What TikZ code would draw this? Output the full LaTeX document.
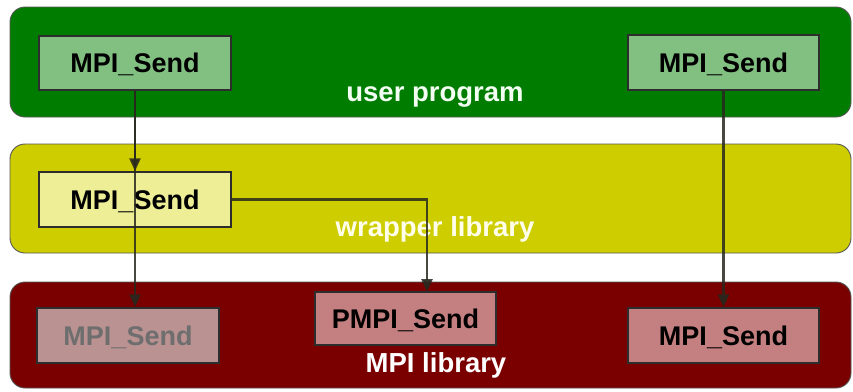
\documentclass[tikz,border=0pt]{standalone}
\usepackage{fontspec}
\setmainfont{Liberation Sans}
\usetikzlibrary{arrows.meta}
\definecolor{bandgreen}{RGB}{0,124,0}
\definecolor{boxgreen}{RGB}{130,192,130}
\definecolor{bandyellow}{RGB}{205,205,0}
\definecolor{boxyellow}{RGB}{238,238,150}
\definecolor{bandred}{RGB}{122,0,0}
\definecolor{boxred}{RGB}{196,128,128}
\definecolor{boxgrey}{RGB}{186,146,146}
\definecolor{textgrey}{RGB}{110,110,110}
\definecolor{edgedark}{RGB}{45,45,45}
\definecolor{arrowcol}{RGB}{40,40,30}
\tikzset{
  band/.style={draw=edgedark!80, line width=0.9pt, rounded corners=15pt},
  fnbox/.style={draw=edgedark, line width=1.5pt, text=black,
    font=\fontsize{27}{30}\selectfont\bfseries,
    text height=19.3pt, text depth=0pt, inner sep=0pt, anchor=center},
  bandlabel/.style={font=\fontsize{27.5}{30}\selectfont\bfseries, anchor=base, inner sep=0pt},
  arr/.style={draw=arrowcol, draw opacity=0.85, fill opacity=0.85, line width=2.6pt,
    -{Triangle[width=11pt,length=13pt]}}
}
\begin{document}
\begin{tikzpicture}[x=1pt,y=-1pt]
\useasboundingbox (0,0) rectangle (853,391);
% bands
\draw[band, fill=bandgreen] (10,7) rectangle (851,117);
\draw[band, fill=bandyellow] (10,144) rectangle (851,253);
\draw[band, fill=bandred] (10,282) rectangle (851,388);
% labels
\node[bandlabel, text=white!95!green] (lu) at (435,101) {user program};
\node[bandlabel, text=white!92!yellow] (lw) at (435,236) {wrapper library};
\node[bandlabel, text=white] (lm) at (436,372) {MPI library};
% boxes
\node[fnbox, fill=boxgreen, minimum width=192pt, minimum height=54pt] (u1) at (135,63) {MPI\_Send};
\node[fnbox, fill=boxgreen, minimum width=191pt, minimum height=55pt] (u2) at (723.5,62.5) {MPI\_Send};
\node[fnbox, fill=boxyellow, minimum width=192pt, minimum height=55pt] (w1) at (135,199.5) {MPI\_Send};
\node[fnbox, fill=boxgrey, text=textgrey, minimum width=182pt, minimum height=55pt] (m1) at (128,335.5) {MPI\_Send};
\node[fnbox, fill=boxred, minimum width=181pt, minimum height=53pt] (p1) at (405.5,318.5) {PMPI\_Send};
\node[fnbox, fill=boxred, minimum width=191pt, minimum height=55pt] (m3) at (723.5,335.5) {MPI\_Send};
% connectors
\coordinate (pin) at (427,292);
\draw[arr] (u1.south) -- (w1.north);
\draw[arr] (u1.south) -- (u1.south |- m1.north);
\draw[arr] (w1.east) -| (pin);
\draw[arr] (u2.south) -- (m3.north);
\end{tikzpicture}
\end{document}
